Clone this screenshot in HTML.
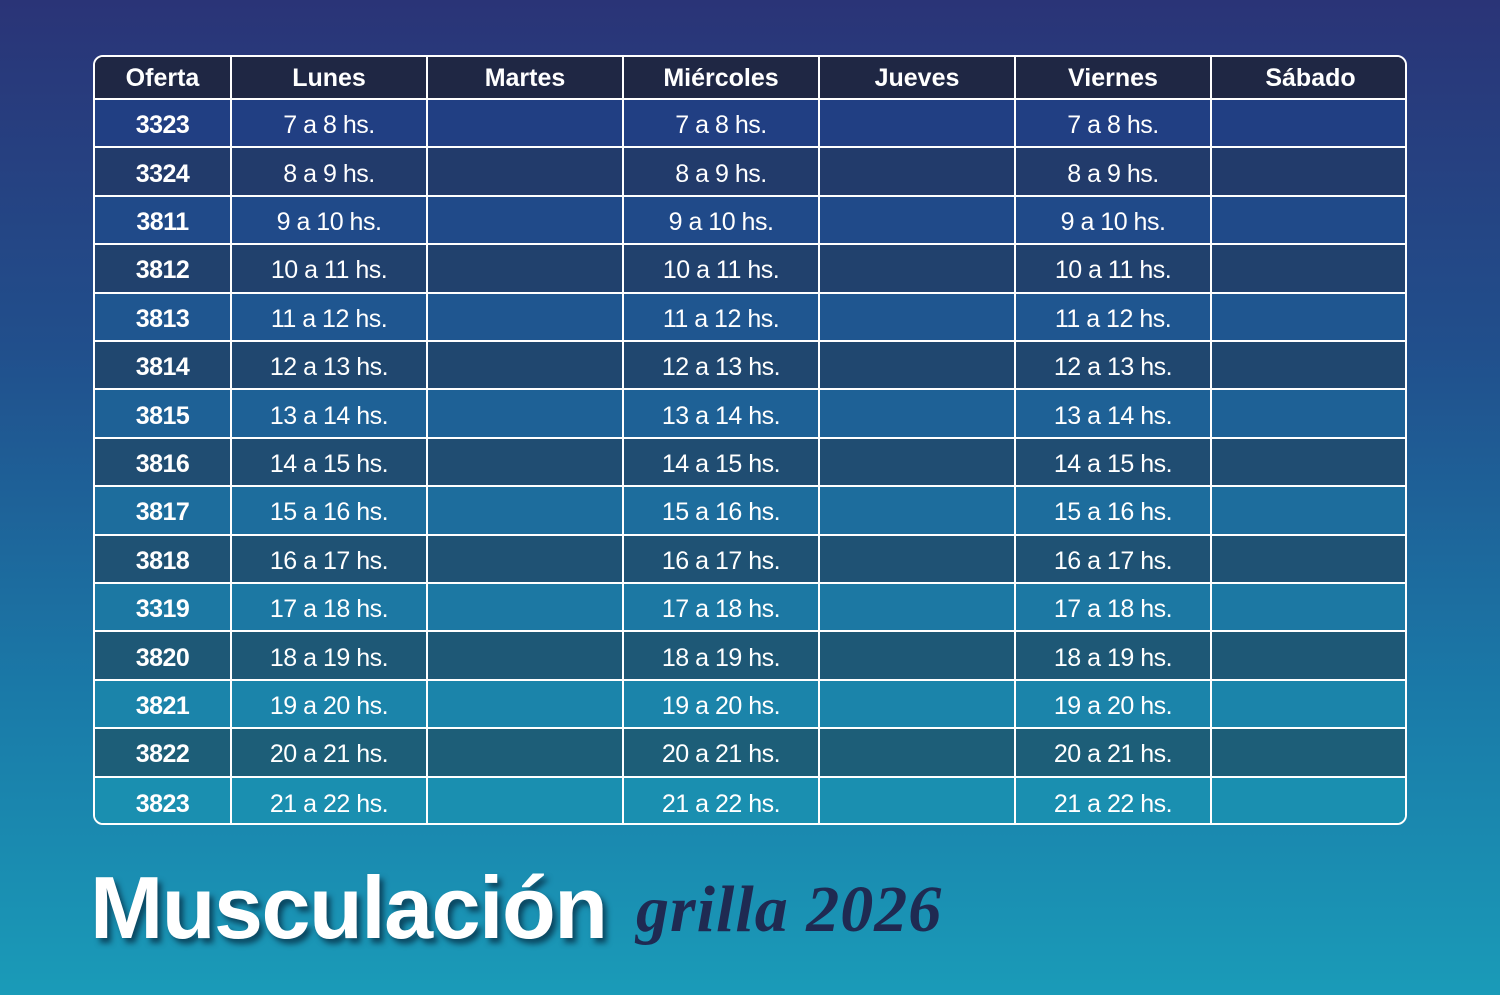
<!DOCTYPE html>
<html><head><meta charset="utf-8"><style>
*{margin:0;padding:0;box-sizing:border-box}
body{width:1500px;height:995px;overflow:hidden;background:linear-gradient(180deg,#2a3477 0%,#214f8c 35%,#1a7aa8 70%,#1a9bb8 100%);font-family:"Liberation Sans",sans-serif;position:relative}
.t{position:absolute;left:93px;top:55px;width:1314px;height:770px;border:2px solid #fff;border-radius:10px;overflow:hidden}
.r{position:absolute;left:0;width:1314px;border-bottom:2px solid #fff}
.c{position:absolute;top:0;height:100%;display:flex;align-items:center;justify-content:center;color:#fff;font-size:25px;border-right:2px solid #fff;letter-spacing:-0.5px;padding-top:5px}
.h .c{font-weight:bold;font-size:25px;letter-spacing:0;padding-top:2px}
.o{font-weight:bold}
.title{position:absolute;left:90px;top:857px;color:#fff;font-weight:bold;font-size:88px;letter-spacing:-1.5px;text-shadow:4px 5px 6px rgba(0,20,40,.6)}
.g{position:absolute;left:636px;top:872px;color:#1f2a52;font-family:"Liberation Serif",serif;font-style:italic;font-weight:bold;font-size:66px;letter-spacing:1px}
</style></head><body>
<div class="t" id="t"></div>
<div class="title">Musculación</div>
<div class="g">grilla 2026</div>
<script>
(function(){
var t=document.getElementById('t');
var xs=[0,137,333,529,725,921,1117,1314];
var rows=[["Oferta","Lunes","Martes","Miércoles","Jueves","Viernes","Sábado"]];
var ids=["3323","3324","3811","3812","3813","3814","3815","3816","3817","3818","3319","3820","3821","3822","3823"];
for(var i=0;i<15;i++){var h=(7+i)+" a "+(8+i)+" hs.";rows.push([ids[i],h,"",h,"",h,""]);}
function lerp(a,b,f){var r=[];for(var k=0;k<3;k++)r.push(Math.round(a[k]+(b[k]-a[k])*f));return "rgb("+r.join(",")+")";}
for(var i=0;i<16;i++){
 var d=document.createElement('div');d.className='r'+(i==0?' h':'');
 var f=(i-1)/14;
 d.style.background=i==0?'#1f2744':(i%2==1?lerp([33,63,131],[26,143,176],f):lerp([34,56,106],[29,97,121],f));
 var s='';
 for(var j=0;j<7;j++){s+='<div class="c'+(j==0?' o':'')+'" style="left:'+xs[j]+'px;width:'+(xs[j+1]-xs[j])+'px;'+(j==6?'border-right:none':'')+'">'+rows[i][j]+'</div>';}
 d.innerHTML=s;
 var ty=i==0?0:43+(i-1)*48.4;var hh=i==0?43:48.4;
 d.style.top=ty+'px';d.style.height=hh+'px';if(i==15)d.style.borderBottom='none';
 t.appendChild(d);
}
})();
</script>
</body></html>
